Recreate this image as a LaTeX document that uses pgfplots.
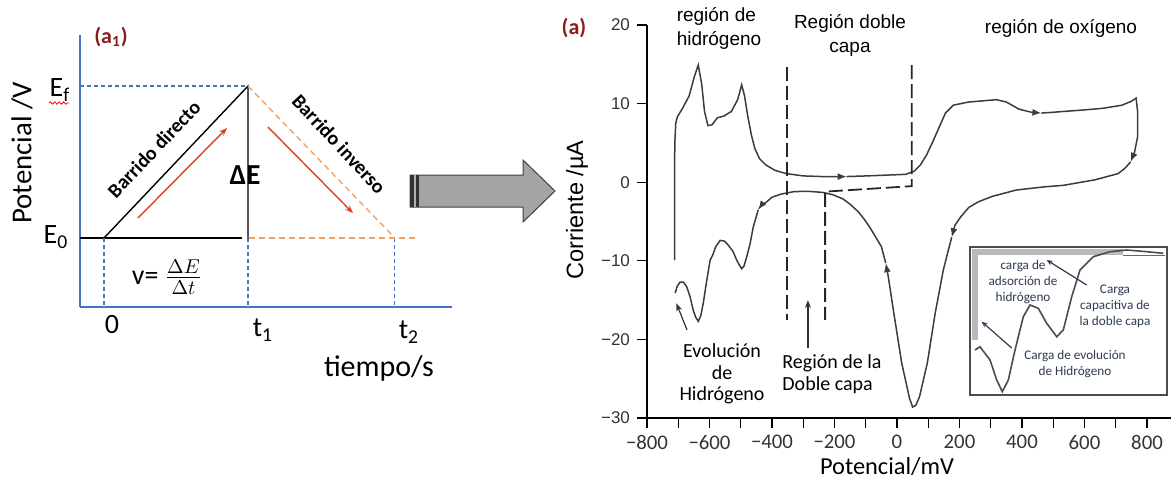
\documentclass[border=0pt]{standalone}
\usepackage{fontspec}
\setmainfont{Carlito}
\newfontfamily\arial{Liberation Sans}
\usepackage{pgfplots}
\pgfplotsset{compat=1.18}
\usetikzlibrary{arrows.meta,decorations.pathmorphing}

\definecolor{axblue}{HTML}{4472C4}
\definecolor{orng}{HTML}{F2A263}
\definecolor{redarr}{HTML}{D9402B}
\definecolor{darkred}{HTML}{8B1C1C}
\definecolor{curve}{HTML}{3C3C3C}
\definecolor{arrowgray}{HTML}{A6A3A3}
\definecolor{insettext}{HTML}{2F3B52}

\begin{document}
\begin{tikzpicture}
% ---------------- left panel: potential ramp ----------------
\begin{axis}[
    at={(40pt,88.5pt)}, anchor=south west,
    scale only axis, width=186pt, height=136pt,
    xmin=-0.1667, xmax=2.4167, ymin=-0.454, ymax=1.336,
    axis lines=left,
    axis line style={-, draw=axblue, line width=0.9pt},
    xtick=\empty, ytick=\empty,
    clip=false,
]
\addplot[black, line width=0.7pt] coordinates {(-0.1667,0) (0.958,0)};
\addplot[black, line width=0.7pt] coordinates {(0,0) (1,1) (1,0)};
\addplot[axblue, line width=0.6pt, dash pattern=on 2pt off 1.5pt] coordinates {(-0.1667,1) (1,1)};
\addplot[axblue, line width=0.6pt, dash pattern=on 2pt off 1.5pt] coordinates {(0,0) (0,-0.454)};
\addplot[axblue, line width=0.6pt, dash pattern=on 2pt off 1.5pt] coordinates {(1,0) (1,-0.454)};
\addplot[axblue, line width=0.6pt, dash pattern=on 2pt off 1.5pt] coordinates {(2.02,0) (2.02,-0.454)};
\addplot[orng, line width=0.7pt, dash pattern=on 3pt off 2pt] coordinates {(1,1) (2.02,0)};
\addplot[orng, line width=0.7pt, dash pattern=on 3pt off 2pt] coordinates {(1.01,0) (2.16,0)};
\draw[redarr, line width=0.7pt, -{Stealth[length=4pt,width=3pt]}] (axis cs:0.236,0.132) -- (axis cs:0.854,0.724);
\draw[redarr, line width=0.7pt, -{Stealth[length=4pt,width=3pt]}] (axis cs:1.139,0.730) -- (axis cs:1.729,0.164);
\end{axis}

% ---------------- right panel: voltammogram ----------------
\begin{axis}[
    at={(323.5pt,33pt)}, anchor=south west,
    scale only axis, width=262pt, height=196.5pt,
    xmin=-800, xmax=876.8, ymin=-30, ymax=20,
    axis lines=left,
    axis line style={-, line width=0.6pt},
    tick align=outside,
    xtick={-800,-600,...,800},
    xticklabels={−800,−600,−400,−200,0,200,400,600,800},
    minor xtick={-700,-500,...,700},
    ytick={-30,-20,...,20},
    yticklabels={−30,−20,−10,0,10,20},
    major tick length=5pt, minor tick length=5pt,
    tick style={black, line width=0.6pt},
    xticklabel style={font=\fontsize{10.4}{12}\selectfont, text=black!80},
    yticklabel style={font=\arial\fontsize{8.5}{10}\selectfont, text=black!80},
    clip=false,
]
% anodic sweep
\addplot[curve, line width=0.75pt, -{Latex[length=4.5pt,width=3.5pt]}] coordinates {
 (-712,-9.9) (-712,0) (-711,5) (-708,7.5) (-703,8.3) (-685,9.5) (-665,11) (-648,13.5)
 (-636,14.9) (-625,12.5) (-616,9) (-605,7.2) (-592,7.3) (-575,8.2) (-555,8.4) (-530,9)
 (-510,10.5) (-497,12.4) (-488,11) (-478,8.5) (-466,6) (-455,4.3) (-440,3) (-420,2.2)
 (-390,1.5) (-355,1.1) (-300,0.8) (-224,0.7) (-161,0.72)};
\addplot[curve, line width=0.75pt, -{Latex[length=4.5pt,width=3.5pt]}] coordinates {
 (-161,0.72) (-98,0.8) (28,1.0) (55,1.4) (75,2.2) (95,3.5) (115,5.2) (135,7.0) (155,8.8)
 (180,9.8) (229,10.2) (318,10.5) (350,10.2) (390,9.3) (430,8.9) (462,8.8)};
\addplot[curve, line width=0.75pt, -{Latex[length=4.5pt,width=3.5pt]}] coordinates {
 (462,8.8) (500,8.9) (532,9.0) (600,9.2) (658,9.4) (720,9.8) (750,10.3) (765,10.7)
 (770,9) (770,5.8) (760,3.8) (748,2.6)};
% cathodic sweep
\addplot[curve, line width=0.75pt, -{Latex[length=4.5pt,width=3.5pt]}] coordinates {
 (748,2.6) (730,1.8) (708,1.1) (633,0.3) (532,-0.4) (469,-0.6) (381,-1.0) (305,-1.8)
 (260,-2.5) (230,-3.2) (204,-4.4) (185,-5.5) (175,-7.0)};
\addplot[curve, line width=0.75pt, -{Latex[length=4.5pt,width=3.5pt]}] coordinates {
 (175,-7.0) (162,-9) (148,-11.2) (122,-16.7) (97,-23.0) (72,-27.3) (60,-28.4) (50,-28.6)
 (40,-27.5) (34,-26.4) (15,-23.0) (-10,-16.7) (-28,-12) (-36,-10.3)};
\addplot[curve, line width=0.75pt, -{Latex[length=4.5pt,width=3.5pt]}] coordinates {
 (-36,-10.3) (-50,-8.2) (-65,-7.2) (-86,-5.8) (-105,-4.7) (-123,-3.8) (-150,-2.8)
 (-174,-2.1) (-205,-1.6) (-237,-1.3) (-287,-1.15) (-330,-1.2) (-370,-1.5) (-400,-1.9)
 (-417,-2.5) (-435,-3.0) (-444,-3.5)};
\addplot[curve, line width=0.75pt] coordinates {
 (-444,-3.5) (-452,-4.6) (-460,-5.7) (-470,-7.8) (-481,-9.5) (-490,-10.7) (-497,-11.0)
 (-505,-10.5) (-513,-9.9) (-525,-8.8) (-540,-8.0) (-552,-7.5) (-566,-7.4) (-580,-8.2)
 (-590,-9.3) (-598,-9.9) (-610,-12.8) (-620,-15.4) (-628,-17.0) (-636,-17.7) (-644,-17.2)
 (-652,-16.3) (-662,-14.6) (-673,-13.3) (-684,-12.7) (-694,-12.7) (-703,-13.2) (-710,-14.1)};
% region boundaries
\addplot[black!85, line width=0.9pt, dash pattern=on 7pt off 2.5pt] coordinates {(-353,14.7) (-353,-17.5)};
\addplot[black!85, line width=0.9pt, dash pattern=on 7pt off 2.5pt] coordinates {(47,14.9) (47,-0.5) (-230,-1.2) (-230,-17.5)};
% annotation arrows
\draw[black!80, line width=0.6pt, -{Stealth[length=4pt,width=3pt]}] (axis cs:-285,-21.1) -- (axis cs:-285,-15);
\draw[black!80, line width=0.6pt, -{Stealth[length=4pt,width=3pt]}] (axis cs:-672,-18.8) -- (axis cs:-706,-15.4);
\end{axis}

% ---------------- inset ----------------
\begin{axis}[
    at={(485pt,44.5pt)}, anchor=south west,
    scale only axis, width=98.5pt, height=74pt,
    xmin=0, xmax=197, ymin=0, ymax=148,
    axis line style={line width=0.6pt, black!70},
    xtick=\empty, ytick=\empty,
    axis background/.style={fill=white},
    clip=false,
]
\fill[gray!55] (axis cs:2,140) rectangle (axis cs:153,146);
\fill[gray!55] (axis cs:2,55) rectangle (axis cs:8,146);
\draw[black!60, line width=0.4pt] (axis cs:153,140) -- (axis cs:195,140);
\addplot[black!70, line width=0.8pt] coordinates {
 (5,45) (10,48.3) (20,35) (26.7,15) (32.3,3.3) (38.3,15) (45,45) (53.3,78.3) (60,90)
 (68.3,86.7) (76.7,71.7) (86.7,58.3) (93.3,65) (101.7,98.3) (110,125) (123.3,138.3)
 (140,143.3) (156.7,145) (176.7,143.3) (193.3,141.7)};
\draw[insettext, line width=0.6pt, -{Stealth[length=3pt,width=2.5pt]}] (axis cs:116.7,110) -- (axis cs:76.7,135);
\draw[insettext, line width=0.6pt, -{Stealth[length=3pt,width=2.5pt]}] (axis cs:41.7,47) -- (axis cs:11.7,73.3);
\end{axis}

% ---------------- texts (pixel grid of the reference) ----------------
\begin{scope}[x=0.5pt,y=0.5pt, every node/.style={inner sep=0pt}]
\node[text=darkred, font=\bfseries\fontsize{11}{13}\selectfont] at (111,447) {(a\textsubscript{1})};
\node[rotate=90, font=\fontsize{14.4}{17}\selectfont] at (22,331) {Potencial /V};
\node[font=\fontsize{14}{16}\selectfont] at (60,394) {E\textsubscript{f}};
\draw[red, line width=0.4pt, decorate, decoration={snake, amplitude=0.6pt, segment length=2.2pt}] (49,381) -- (69,381);
\node[font=\fontsize{14}{16}\selectfont] at (56,247) {E\textsubscript{0}};
\node[font=\fontsize{14}{16}\selectfont] at (112,159) {0};
\node[font=\fontsize{14}{16}\selectfont] at (263,154) {t\textsubscript{1}};
\node[font=\fontsize{14}{16}\selectfont] at (409,152) {t\textsubscript{2}};
\node[font=\fontsize{15}{18}\selectfont] at (379,116) {tiempo/s};
\node[font=\bfseries\fontsize{14.5}{17}\selectfont] at (245,309) {ΔE};
\node[font=\fontsize{14}{16}\selectfont] at (167,207) {v= $\frac{\Delta E}{\Delta t}$};
\node[rotate=46.5, font=\bfseries\fontsize{10}{12}\selectfont] at (154,335) {Barrido directo};
\node[rotate=-47, font=\bfseries\fontsize{10}{12}\selectfont] at (339,340) {Barrido inverso};
% block arrow
\filldraw[fill=arrowgray, draw=black!75, line width=0.5pt]
  (410,309) -- (523,309) -- (523,324) -- (555,293) -- (523,262) -- (523,277) -- (410,277) -- cycle;
\fill[black!80] (410,277) rectangle (419,309);
\draw[gray!60, line width=1pt] (415,277) -- (415,309);
% right panel texts
\node[text=darkred, font=\bfseries\fontsize{11}{13}\selectfont] at (574,456) {(a)};
\node[align=left, font=\arial\fontsize{9.5}{12}\selectfont] at (719,456) {región de\\hidrógeno};
\node[align=center, font=\arial\fontsize{9.5}{12}\selectfont] at (850,449) {Región doble\\capa};
\node[font=\arial\fontsize{9.5}{12}\selectfont] at (1061,456) {región de oxígeno};
\node[rotate=90, font=\arial\fontsize{11.8}{14}\selectfont] at (577,274) {Corriente /µA};
\node[font=\fontsize{12.2}{14}\selectfont] at (887,17) {Potencial/mV};
\node[align=center, font=\fontsize{10}{10.75}\selectfont] at (722,110) {Evolución\\de\\Hidrógeno};
\node[align=left, anchor=west, font=\fontsize{10}{10.75}\selectfont] at (782,110) {Región de la\\Doble capa};
\node[align=center, text=insettext, font=\fontsize{6.6}{8}\selectfont] at (1023,202) {carga de\\adsorción de\\hidrógeno};
\node[align=center, text=insettext, font=\fontsize{6.6}{8}\selectfont] at (1115,178) {Carga\\capacitiva de\\la doble capa};
\node[align=center, text=insettext, font=\fontsize{6.6}{8}\selectfont] at (1075,120) {Carga de evolución\\de Hidrógeno};
\end{scope}

\pgfresetboundingbox
\path[use as bounding box] (0,0) rectangle (585.5pt,242pt);
\end{tikzpicture}
\end{document}
